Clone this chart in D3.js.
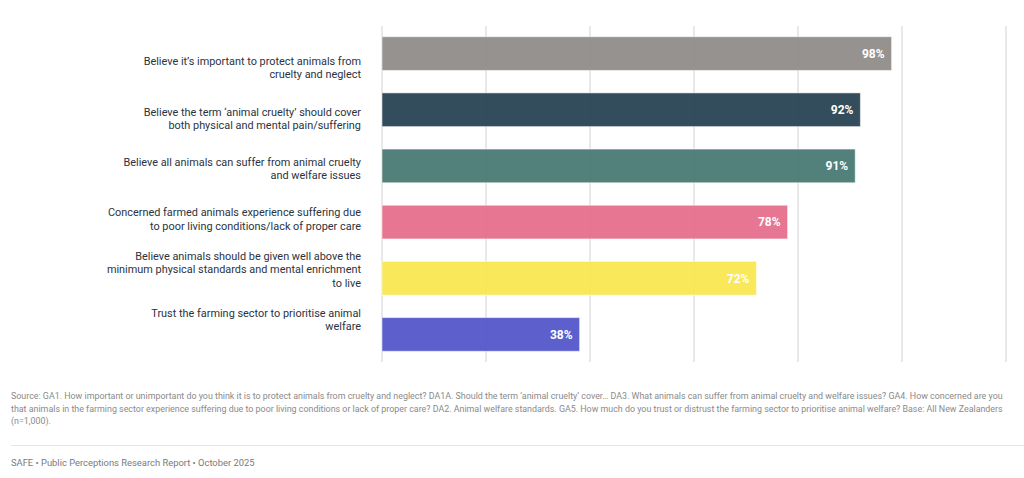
<!DOCTYPE html>
<html>
<head>
<meta charset="utf-8">
<script src="https://cdn.jsdelivr.net/npm/d3@7"></script>
<style>
  html, body { margin: 0; padding: 0; background: #fff; }
  svg { display: block; }
  text { font-family: "Roboto", "Noto Sans", sans-serif; }
</style>
</head>
<body>
<div id="chart"></div>
<script>
"use strict";

// statements, one per bar (already wrapped as in the report)
var labels = [
  ["Believe it\u2019s important to protect animals from", "cruelty and neglect"],
  ["Believe the term \u2018animal cruelty\u2019 should cover", "both physical and mental pain/suffering"],
  ["Believe all animals can suffer from animal cruelty", "and welfare issues"],
  ["Concerned farmed animals experience suffering due", "to poor living conditions/lack of proper care"],
  ["Believe animals should be given well above the", "minimum physical standards and mental enrichment", "to live"],
  ["Trust the farming sector to prioritise animal", "welfare"]
];
var values = [98, 92, 91, 78, 72, 38];
var barColors = ["#928e8a", "#2c4656", "#4b7b75", "#e5708d", "#f9e752", "#5558ca"];
var ticks = [0, 20, 40, 60, 80, 100, 120];

var sourceLines = [
  "Source: GA1. How important or unimportant do you think it is to protect animals from cruelty and neglect? DA1A. Should the term \u2018animal cruelty\u2019 cover\u2026 DA3. What animals can suffer from animal cruelty and welfare issues? GA4. How concerned are you",
  "that animals in the farming sector experience suffering due to poor living conditions or lack of proper care? DA2. Animal welfare standards. GA5. How much do you trust or distrust the farming sector to prioritise animal welfare?  Base: All New Zealanders",
  "(n=1,000)."
];
var footer = "SAFE \u2022 Public Perceptions Research Report \u2022 October 2025";

var width = 1024,
  height = 478;

var svg = d3
  .select("#chart")
  .append("svg")
  .attr("width", width)
  .attr("height", height);

var x = d3.scaleLinear().domain([0, 120]).range([382, 1006]);
var y = d3
  .scaleBand()
  .domain(d3.range(values.length))
  .range([25.5, 362.5])
  .paddingInner(0.4)
  .paddingOuter(0.2);
// the text column sits on its own, slightly tighter spacing
var yLabel = d3.scalePoint().domain(d3.range(labels.length)).range([68, 320]);

// vertical gridlines
svg
  .append("g")
  .attr("class", "grid")
  .selectAll("line")
  .data(ticks)
  .join("line")
  .attr("x1", (d) => x(d))
  .attr("x2", (d) => x(d))
  .attr("y1", 26)
  .attr("y2", 362)
  .attr("stroke", "#e0e0e0")
  .attr("stroke-width", 1.5);

// bars
svg
  .append("g")
  .attr("class", "bars")
  .selectAll("rect")
  .data(values)
  .join("rect")
  .attr("x", x(0))
  .attr("y", (d, i) => y(i))
  .attr("width", (d) => x(d) - x(0))
  .attr("height", y.bandwidth())
  .attr("fill", (d, i) => barColors[i])
  .attr("fill-opacity", 0.96)
  .attr("stroke", "#ffffff")
  .attr("stroke-opacity", 0.5)
  .attr("stroke-width", 1);

// value labels inside bar ends
svg
  .append("g")
  .attr("class", "values")
  .selectAll("text")
  .data(values)
  .join("text")
  .attr("x", (d) => x(d) - 7)
  .attr("y", (d, i) => y(i) + y.bandwidth() / 2)
  .attr("dy", "0.36em")
  .attr("text-anchor", "end")
  .attr("fill", "#ffffff")
  .attr("font-size", "12px")
  .attr("font-weight", "bold")
  .text((d) => d + "%");

// category labels
var lineHeight = 13.3;
svg
  .append("g")
  .attr("class", "labels")
  .selectAll("text")
  .data(labels)
  .join("text")
  .attr("text-anchor", "end")
  .attr("fill", "#2b3340")
  .attr("font-size", "10.9px")
  .each(function (lines, i) {
    var top = yLabel(i) - ((lines.length - 1) * lineHeight) / 2;
    d3.select(this)
      .selectAll("tspan")
      .data(lines)
      .join("tspan")
      .attr("x", 361)
      .attr("y", (d, j) => top + j * lineHeight)
      .attr("dy", "0.35em")
      .text((d) => d);
  });

// source note
svg
  .append("g")
  .attr("class", "source")
  .selectAll("text")
  .data(sourceLines)
  .join("text")
  .attr("x", 11)
  .attr("y", (d, i) => 399 + i * 12.5)
  .attr("fill", "#8a8a8a")
  .attr("font-size", "8.9px")
  .text((d) => d);

svg
  .append("line")
  .attr("x1", 11)
  .attr("x2", width)
  .attr("y1", 445.5)
  .attr("y2", 445.5)
  .attr("stroke", "#e6e6e6")
  .attr("stroke-width", 1);

svg
  .append("text")
  .attr("x", 11)
  .attr("y", 466)
  .attr("fill", "#7a7a7a")
  .attr("font-size", "9.4px")
  .text(footer);
</script>
</body>
</html>
